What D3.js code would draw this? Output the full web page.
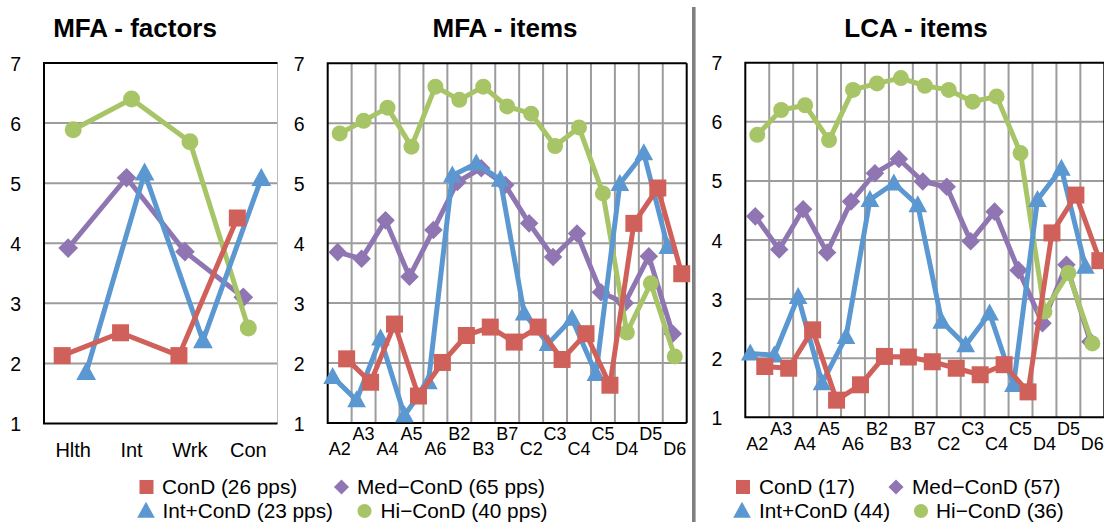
<!DOCTYPE html>
<html><head><meta charset="utf-8">
<script src="https://cdn.jsdelivr.net/npm/d3@7"></script>
<style>
html,body{margin:0;padding:0;background:#fff;}
svg{display:block;font-family:Arial,"Liberation Sans",sans-serif;}
</style></head>
<body>
<svg id="chart" width="1104" height="522"></svg>
<script>
// ---------- DATA ----------
const factorCats = ["Hlth","Int","Wrk","Con"];
const mfaFactorsConD = [2.13, 2.51, 2.13, 4.42];
const mfaFactorsMed  = [3.92, 5.09, 3.86, 3.10];
const mfaFactorsInt  = [1.85, 5.17, 2.38, 5.08];
const mfaFactorsHi   = [5.89, 6.40, 5.69, 2.59];

const itemCats = ["A2","A3","A4","A5","A6","B2","B3","B7","C2","C3","C4","C5","D4","D5","D6"];
const mfaItemsConD = [2.07,1.68,2.65,1.45,2.01,2.46,2.60,2.35,2.60,2.06,2.49,1.63,4.33,4.92,3.49];
const mfaItemsMed  = [3.85,3.74,4.38,3.44,4.22,5.02,5.25,4.97,4.33,3.77,4.16,3.18,3.00,3.78,2.49];
const mfaItemsInt  = [1.77,1.38,2.41,1.13,1.68,5.13,5.33,5.06,2.83,2.32,2.74,1.82,4.99,5.50,3.94];
const mfaItemsHi   = [5.83,6.04,6.26,5.61,6.61,6.39,6.61,6.28,6.16,5.62,5.93,4.83,2.51,3.33,2.11];

const lcaItemsConD = [1.86,1.83,2.48,1.29,1.55,2.03,2.02,1.94,1.83,1.72,1.89,1.43,4.12,4.76,3.65];
const lcaItemsMed  = [4.40,3.84,4.52,3.79,4.65,5.13,5.37,4.99,4.90,3.98,4.48,3.49,2.59,3.58,2.28];
const lcaItemsInt  = [2.08,2.05,3.04,1.58,2.36,4.68,4.96,4.59,2.62,2.22,2.76,1.55,4.68,5.21,3.55];
const lcaItemsHi   = [5.78,6.20,6.28,5.69,6.54,6.65,6.74,6.61,6.54,6.34,6.43,5.47,2.79,3.44,2.25];

const yTicks = [1,2,3,4,5,6,7];
const titles = ["MFA - factors","MFA - items","LCA - items"];
const mfaLegend = ["ConD (26 pps)","Med\u2212ConD (65 pps)","Int+ConD (23 pps)","Hi\u2212ConD (40 pps)"];
const lcaLegend = ["ConD (17)","Med\u2212ConD (57)","Int+ConD (44)","Hi\u2212ConD (36)"];

// ---------- STYLE ----------
const colors = {ConD:"#D0605A", Med:"#8F76B2", Int:"#5B97D0", Hi:"#A7C566"};
const shapes = {ConD:"square", Med:"diamond", Int:"triangle", Hi:"circle"};
const drawOrder = ["Med","Hi","Int","ConD"];
const GRID = "#9c9c9c";

const svg = d3.select("#chart");

function markerPath(shape, s){
  if(shape==="square"){const h=s/2;return `M${-h},${-h}H${h}V${h}H${-h}Z`;}
  if(shape==="diamond"){const h=s*0.58;return `M0,${-h}L${h},0L0,${h}L${-h},0Z`;}
  if(shape==="triangle"){const w=s*0.55, t=s*0.58, b=s*0.42;return `M0,${-t}L${w},${b}L${-w},${b}Z`;}
  const r=s/2; return `M${r},0A${r},${r} 0 1,1 ${-r},0A${r},${r} 0 1,1 ${r},0Z`;
}

function panel(cfg){
  const g = svg.append("g");
  const x = d3.scaleBand().domain(cfg.cats).range([cfg.x0,cfg.x1]).paddingInner(0).paddingOuter(0);
  const y = d3.scaleLinear().domain([1,7]).range([cfg.yBot,cfg.yTop]);
  g.append("g").selectAll("line").data(yTicks.filter(v=>v>1&&v<7)).join("line")
    .attr("x1",cfg.x0).attr("x2",cfg.x1).attr("y1",d=>y(d)).attr("y2",d=>y(d))
    .attr("stroke",GRID).attr("stroke-width",2);
  if(cfg.vgrid){
    g.append("g").selectAll("line").data(cfg.cats.slice(1)).join("line")
      .attr("x1",d=>x(d)).attr("x2",d=>x(d)).attr("y1",cfg.yTop).attr("y2",cfg.yBot)
      .attr("stroke",GRID).attr("stroke-width",2);
  }
  if(cfg.rightGrey){
    g.append("line").attr("x1",cfg.x1).attr("x2",cfg.x1).attr("y1",cfg.yTop).attr("y2",cfg.yBot)
      .attr("stroke","#bbb").attr("stroke-width",1);
  } else {
    g.append("line").attr("x1",cfg.x1).attr("x2",cfg.x1).attr("y1",cfg.yTop).attr("y2",cfg.yBot)
      .attr("stroke","#000").attr("stroke-width",2);
  }
  g.append("path").attr("d",`M${cfg.x1},${cfg.yTop}H${cfg.x0}V${cfg.yBot}H${cfg.x1}`)
    .attr("fill","none").attr("stroke","#000").attr("stroke-width",2);

  const ya = g.append("g").attr("transform",`translate(${cfg.x0-23},0)`)
    .call(d3.axisLeft(y).tickValues(yTicks).tickSize(0).tickPadding(0).tickFormat(d3.format("d")));
  ya.select(".domain").remove();
  ya.selectAll("text").attr("font-size",19.5).attr("fill","#000")
    .attr("font-family",'Arial,"Liberation Sans",sans-serif').attr("dy","0.36em");

  const xa = g.append("g").attr("transform",`translate(0,${cfg.yBot})`)
    .call(d3.axisBottom(x).tickSize(0).tickPadding(0));
  xa.select(".domain").remove();
  xa.selectAll("text").attr("font-size",cfg.xFont).attr("fill","#000")
    .attr("font-family",'Arial,"Liberation Sans",sans-serif')
    .attr("dy",0)
    .attr("y",(d,i)=> cfg.alternate ? (i%2===0 ? cfg.lowRow : cfg.highRow) : cfg.lowRow);

  g.append("text").attr("x",cfg.titleX).attr("y",37).attr("text-anchor","middle")
    .attr("font-size",26).attr("font-weight","bold").text(cfg.title);

  const line = d3.line();
  drawOrder.forEach(k=>{
    const vals = cfg.series[k];
    const pts = vals.map((v,i)=>[x(cfg.cats[i])+x.bandwidth()/2+cfg.offsets[k], y(v)]);
    g.append("path").attr("d",line(pts)).attr("fill","none").attr("stroke",colors[k])
      .attr("stroke-width",5).attr("stroke-linejoin","round");
    g.append("g").selectAll("path").data(pts).join("path")
      .attr("transform",d=>`translate(${d[0]},${d[1]})`)
      .attr("d",markerPath(shapes[k], cfg.msize[k])).attr("fill",colors[k]);
  });
}

panel({cats:factorCats, x0:44, x1:277.5, yTop:63, yBot:423.5, vgrid:false, rightGrey:true,
  xFont:20, alternate:false, lowRow:33.5, highRow:33.5, title:titles[0], titleX:135,
  offsets:{ConD:-11, Med:-5, Hi:0, Int:13},
  msize:{ConD:17, Med:17, Int:18, Hi:17},
  series:{ConD:mfaFactorsConD, Med:mfaFactorsMed, Int:mfaFactorsInt, Hi:mfaFactorsHi}});

panel({cats:itemCats, x0:327.7, x1:686.7, yTop:63.3, yBot:423, vgrid:true, rightGrey:false,
  xFont:18, alternate:true, lowRow:32, highRow:17, title:titles[1], titleX:505,
  offsets:{ConD:7, Med:-2, Hi:0, Int:-7},
  msize:{ConD:17, Med:16, Int:17, Hi:16},
  series:{ConD:mfaItemsConD, Med:mfaItemsMed, Int:mfaItemsInt, Hi:mfaItemsHi}});

panel({cats:itemCats, x0:745.3, x1:1104.3, yTop:62.7, yBot:417.3, vgrid:true, rightGrey:false,
  xFont:18, alternate:true, lowRow:32.7, highRow:17.7, title:titles[2], titleX:916,
  offsets:{ConD:7.5, Med:-2, Hi:0, Int:-7},
  msize:{ConD:17, Med:16, Int:17, Hi:16},
  series:{ConD:lcaItemsConD, Med:lcaItemsMed, Int:lcaItemsInt, Hi:lcaItemsHi}});

svg.append("line").attr("x1",693.8).attr("x2",693.8).attr("y1",7).attr("y2",522)
  .attr("stroke","#808080").attr("stroke-width",3.6);

function legend(labels, pos){
  const keys = ["ConD","Med","Int","Hi"];
  const g = svg.append("g");
  keys.forEach((k,i)=>{
    const p = pos[i];
    g.append("path").attr("transform",`translate(${p.mx},${p.y})`)
      .attr("d",markerPath(shapes[k], k==="Med"?13:(k==="Int"?16:14))).attr("fill",colors[k]);
    g.append("text").attr("x",p.tx).attr("y",p.y).attr("dy","0.35em")
      .attr("font-size",20.8).attr("fill","#000").text(labels[i]);
  });
}
legend(mfaLegend, [
  {mx:146.5, tx:162, y:487},
  {mx:341.5, tx:357, y:487},
  {mx:146, tx:162.5, y:511},
  {mx:364.5, tx:380.5, y:511}]);
legend(lcaLegend, [
  {mx:743, tx:759, y:487},
  {mx:896, tx:912, y:487},
  {mx:742, tx:759, y:511},
  {mx:921, tx:936, y:511}]);
</script>
</body></html>
